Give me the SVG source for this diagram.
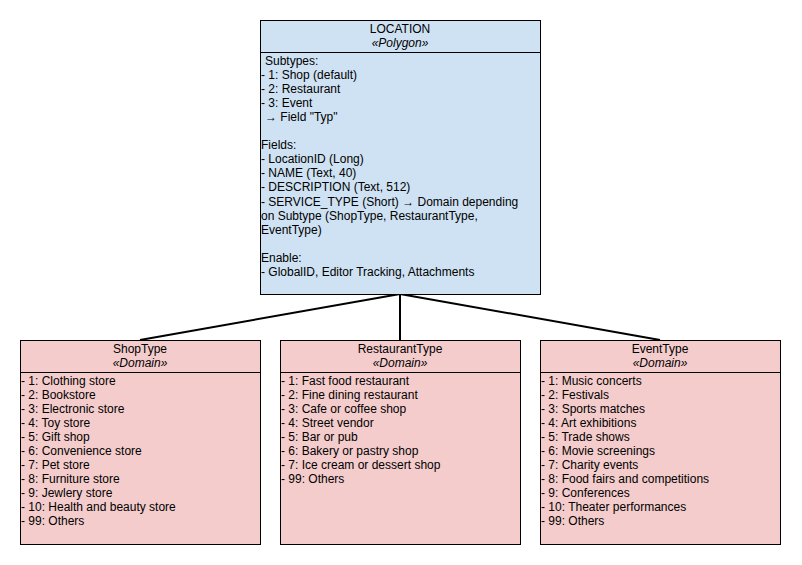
<svg xmlns="http://www.w3.org/2000/svg" width="802" height="565" viewBox="0 0 802 565">
  <style>
    text { font-family: "Liberation Sans", Arial, Helvetica, sans-serif; font-size: 12px; fill: #000; }
    .title { text-anchor: middle; }
    .stereo { text-anchor: middle; font-style: italic; }
    .box { stroke: #000; stroke-width: 1; }
    .feature { fill: #cfe2f3; }
    .domain { fill: #f4cccc; }
    .divider { stroke: #000; stroke-width: 1; }
    .link { stroke: #000; stroke-width: 2; fill: none; }
  </style>
  <rect width="802" height="565" fill="#ffffff"/>

  <g id="connectors">
    <line class="link" x1="400" y1="294" x2="140" y2="340"/>
    <line class="link" x1="400" y1="294" x2="400" y2="340"/>
    <line class="link" x1="400" y1="294" x2="660" y2="340"/>
  </g>

  <g id="location">
    <rect class="box feature" x="260.5" y="20.5" width="280" height="274"/>
    <line class="divider" x1="260.5" y1="52.5" x2="540.5" y2="52.5"/>
    <text class="title" x="400" y="33">LOCATION</text>
    <text class="stereo" x="400" y="47">«Polygon»</text>
    <text x="265" y="64.5">Subtypes:</text>
    <text x="261" y="78.6">- 1: Shop (default)</text>
    <text x="261" y="92.7">- 2: Restaurant</text>
    <text x="261" y="106.8">- 3: Event</text>
    <text x="265" y="120.9">→ Field "Typ"</text>
    <text x="261" y="149.1">Fields:</text>
    <text x="261" y="163.2">- LocationID (Long)</text>
    <text x="261" y="177.3">- NAME (Text, 40)</text>
    <text x="261" y="191.4">- DESCRIPTION (Text, 512)</text>
    <text x="261" y="205.5">- SERVICE_TYPE (Short) → Domain depending</text>
    <text x="261" y="219.6">on Subtype (ShopType, RestaurantType,</text>
    <text x="261" y="233.7">EventType)</text>
    <text x="261" y="261.9">Enable:</text>
    <text x="261" y="276">- GlobalID, Editor Tracking, Attachments</text>
  </g>

  <g id="shoptype">
    <rect class="box domain" x="20.5" y="340.5" width="240" height="204"/>
    <line class="divider" x1="20.5" y1="372.5" x2="260.5" y2="372.5"/>
    <text class="title" x="140" y="353">ShopType</text>
    <text class="stereo" x="140" y="367">«Domain»</text>
    <text x="21" y="385">- 1: Clothing store</text>
    <text x="21" y="399">- 2: Bookstore</text>
    <text x="21" y="413">- 3: Electronic store</text>
    <text x="21" y="427">- 4: Toy store</text>
    <text x="21" y="441">- 5: Gift shop</text>
    <text x="21" y="455">- 6: Convenience store</text>
    <text x="21" y="469">- 7: Pet store</text>
    <text x="21" y="483">- 8: Furniture store</text>
    <text x="21" y="497">- 9: Jewlery store</text>
    <text x="21" y="511">- 10: Health and beauty store</text>
    <text x="21" y="525">- 99: Others</text>
  </g>

  <g id="restauranttype">
    <rect class="box domain" x="280.5" y="340.5" width="240" height="204"/>
    <line class="divider" x1="280.5" y1="372.5" x2="520.5" y2="372.5"/>
    <text class="title" x="400" y="353">RestaurantType</text>
    <text class="stereo" x="400" y="367">«Domain»</text>
    <text x="281" y="385">- 1: Fast food restaurant</text>
    <text x="281" y="399">- 2: Fine dining restaurant</text>
    <text x="281" y="413">- 3: Cafe or coffee shop</text>
    <text x="281" y="427">- 4: Street vendor</text>
    <text x="281" y="441">- 5: Bar or pub</text>
    <text x="281" y="455">- 6: Bakery or pastry shop</text>
    <text x="281" y="469">- 7: Ice cream or dessert shop</text>
    <text x="281" y="483">- 99: Others</text>
  </g>

  <g id="eventtype">
    <rect class="box domain" x="540.5" y="340.5" width="240" height="204"/>
    <line class="divider" x1="540.5" y1="372.5" x2="780.5" y2="372.5"/>
    <text class="title" x="660" y="353">EventType</text>
    <text class="stereo" x="660" y="367">«Domain»</text>
    <text x="541" y="385">- 1: Music concerts</text>
    <text x="541" y="399">- 2: Festivals</text>
    <text x="541" y="413">- 3: Sports matches</text>
    <text x="541" y="427">- 4: Art exhibitions</text>
    <text x="541" y="441">- 5: Trade shows</text>
    <text x="541" y="455">- 6: Movie screenings</text>
    <text x="541" y="469">- 7: Charity events</text>
    <text x="541" y="483">- 8: Food fairs and competitions</text>
    <text x="541" y="497">- 9: Conferences</text>
    <text x="541" y="511">- 10: Theater performances</text>
    <text x="541" y="525">- 99: Others</text>
  </g>
</svg>
